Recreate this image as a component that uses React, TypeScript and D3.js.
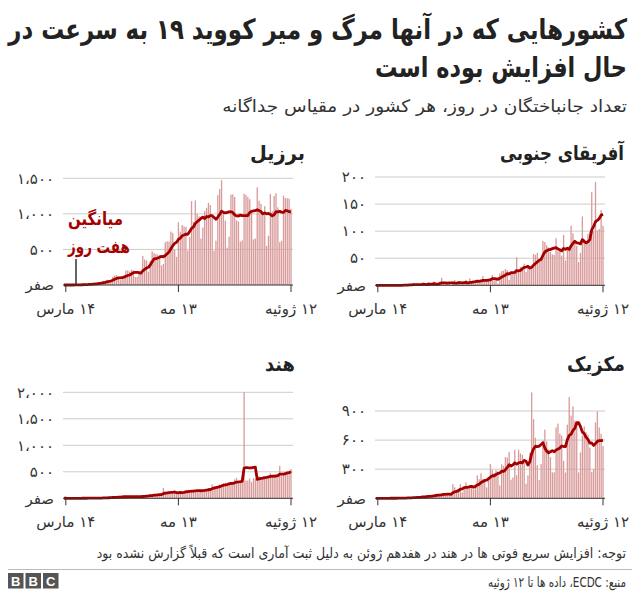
import React, { useLayoutEffect, useRef, useState } from "react";
import * as d3 from "d3";

// ---------- DATA (daily deaths, ECDC, 13 Mar 2020 .. 12 Jul 2020) ----------
const startDate = Date.UTC(2020, 2, 13);

const brazilDeaths = [
  0, 0, 0, 0, 0, 1, 3, 2, 5, 7, 7, 9, 12, 11, 20, 15, 22, 22, 23,
  42, 40, 58, 60, 73, 54, 67, 114, 133, 141, 115, 68, 99, 105, 204, 204, 188, 217, 206, 115, 113, 166, 165, 407, 357, 346, 189, 338, 474, 449,
  435, 428, 421, 275, 296, 600, 615, 610, 751, 730, 496, 396, 881, 749, 844, 824, 816, 485, 674, 1179, 888, 1188, 1001, 965, 653, 807, 1039, 1086, 1156, 1124, 956,
  480, 623, 1262, 1349, 1473, 1005, 904, 525, 679, 1272, 1274, 1239, 909, 892, 612, 627, 1282, 1269, 1238, 1206, 1022, 641, 654, 1374, 1185, 1141, 990, 1109, 552, 692,
  1280, 1038, 1252, 1290, 1091, 602, 620, 1254, 1223, 1220, 1214, 1071,
];

const southAfricaDeaths = [
  0, 0, 0, 0, 0, 0, 0, 0, 0, 0, 0, 0, 0, 0, 0, 1, 1, 1, 2,
  0, 4, 0, 2, 1, 0, 6, 0, 0, 6, 1, 2, 7, 0, 0, 7, 14, 2, 2, 2, 4, 0, 7, 10, 4, 7, 1, 3, 3, 10,
  0, 13, 7, 8, 7, 10, 5, 8, 17, 8, 8, 12, 13, 19, 9, 14, 3, 22, 26, 27, 30, 28, 10, 22, 21, 28, 52, 25, 34, 32, 40,
  25, 37, 30, 36, 58, 56, 60, 46, 49, 82, 80, 74, 70, 62, 57, 56, 87, 63, 65, 55, 93, 46, 70, 72, 110, 96, 82, 73, 43, 60,
  127, 85, 80, 95, 100, 172, 100, 191, 101, 104, 139, 110,
];

const indiaDeaths = [
  1, 0, 0, 0, 1, 0, 0, 1, 1, 0, 3, 2, 1, 2, 5, 4, 3, 5, 4,
  3, 9, 15, 12, 13, 17, 13, 28, 16, 26, 31, 35, 40, 32, 25, 38, 29, 26, 23, 33, 36, 37, 32, 51, 48, 58, 57, 69, 51, 73,
  72, 75, 77, 71, 195, 128, 92, 125, 89, 95, 111, 97, 122, 134, 100, 120, 157, 154, 140, 134, 132, 148, 142, 154, 147, 146, 170, 175, 194, 175, 265,
  230, 204, 217, 260, 273, 284, 294, 287, 297, 261, 266, 357, 386, 311, 325, 343, 2003, 334, 336, 375, 306, 380, 365, 400, 418, 384, 410, 380, 418, 417,
  475, 434, 379, 442, 442, 613, 421, 467, 482, 487, 475, 551,
];

const mexicoDeaths = [
  0, 0, 0, 0, 0, 0, 1, 0, 1, 0, 2, 1, 1, 3, 4, 4, 4, 8, 4,
  8, 10, 13, 15, 10, 19, 22, 20, 28, 22, 25, 26, 38, 43, 41, 30, 46, 52, 40, 47, 40, 33, 145, 113, 80, 98, 145, 62, 122, 163,
  125, 127, 113, 91, 117, 236, 197, 257, 199, 193, 112, 218, 353, 294, 257, 290, 278, 132, 351, 334, 424, 420, 479, 190, 215, 501, 239, 501, 463, 447, 364,
  151, 237, 470, 1092, 816, 625, 341, 188, 354, 596, 708, 587, 504, 424, 267, 269, 730, 770, 667, 647, 387, 266, 759, 1044, 852, 947, 800, 790, 267, 473,
  648, 741, 679, 654, 523, 273, 301, 782, 895, 730, 665, 539,
];

const xTickDates = [Date.UTC(2020, 2, 14), Date.UTC(2020, 4, 13), Date.UTC(2020, 6, 12)];
const xTickLabels = ["۱۴ مارس", "۱۳ مه", "۱۲ ژوئیه"];

const brazilTicks = [0, 500, 1000, 1500];
const brazilTickLabels = ["صفر", "۵۰۰", "۱،۰۰۰", "۱،۵۰۰"];
const southAfricaTicks = [0, 50, 100, 150, 200];
const southAfricaTickLabels = ["صفر", "۵۰", "۱۰۰", "۱۵۰", "۲۰۰"];
const indiaTicks = [0, 500, 1000, 1500, 2000];
const indiaTickLabels = ["صفر", "۵۰۰", "۱،۰۰۰", "۱،۵۰۰", "۲،۰۰۰"];
const mexicoTicks = [0, 300, 600, 900];
const mexicoTickLabels = ["صفر", "۳۰۰", "۶۰۰", "۹۰۰"];

const titleLines = ["کشورهایی که در آنها مرگ و میر کووید ۱۹ به سرعت در", "حال افزایش بوده است"];
const subtitle = "تعداد جانباختگان در روز، هر کشور در مقیاس جداگانه";
const noteText = "توجه: افزایش سریع فوتی ها در هند در هفدهم ژوئن به دلیل ثبت آماری است که قبلاً گزارش نشده بود";
const sourceText = "منبع: ECDC، داده ها تا ۱۲ ژوئیه";
const legendLines = ["میانگین", "هفت روز"];

// ---------- STYLE ----------
const FONT = "'DejaVu Sans', sans-serif";
const BAR = "#d99a9a";
const LINE = "#a30000";
const DAY = 86400000;

function rolling7(vals: number[]): number[] {
  return vals.map((_, i) => d3.mean(vals.slice(Math.max(0, i - 6), i + 1)) as number);
}

type FitProps = {
  x: number;
  y: number;
  width: number;
  side: "right" | "left";
  size: number;
  bold?: boolean;
  fill?: string;
  children: string;
};

// Persian text, fitted horizontally to the width it has in the reference
function FitText(p: FitProps) {
  const ref = useRef<SVGTextElement>(null);
  const [s, setS] = useState(1);
  useLayoutEffect(() => {
    if (ref.current) {
      const w = ref.current.getComputedTextLength();
      if (w > 0) setS(p.width / w);
    }
  }, [p.width, p.children]);
  return (
    <g transform={`translate(${p.x},${p.y}) scale(${s},1)`}>
      <text
        ref={ref}
        x={0}
        y={0}
        direction="rtl"
        textAnchor={p.side === "right" ? "start" : "end"}
        fontFamily={FONT}
        fontWeight={p.bold ? "bold" : "normal"}
        fontSize={p.size}
        fill={p.fill || "#222"}
      >
        {p.children}
      </text>
    </g>
  );
}

type PanelProps = {
  title: string;
  titleX: number;
  titleY: number;
  titleW: number;
  values: number[];
  yMax: number;
  yTop: number;
  base: number;
  left: number;
  ticks: number[];
  tickLabels: string[];
  legend?: boolean;
};

function Panel(p: PanelProps) {
  const x = d3
    .scaleUtc()
    .domain([Date.UTC(2020, 2, 12, 12), Date.UTC(2020, 6, 12)])
    .range([p.left, p.left + 228]);
  const y = d3.scaleLinear().domain([0, p.yMax]).range([p.base, p.yTop]);
  const right = p.left + 230;
  const avg = rolling7(p.values);
  const line = d3
    .line<number>()
    .x((_, i) => x(startDate + i * DAY))
    .y((d) => y(d));
  const bw = 1.3;
  return (
    <g>
      <FitText x={p.titleX} y={p.titleY} width={p.titleW} side="right" size={20} bold>
        {p.title}
      </FitText>
      {p.ticks.map((t, i) =>
        t === 0 ? null : (
          <line key={"g" + i} x1={p.left} x2={right} y1={y(t)} y2={y(t)} stroke="#cccccc" strokeWidth={1} />
        )
      )}
      {p.ticks.map((t, i) => (
        <text key={"yl" + i} x={p.left - 9} y={y(t)} dy="0.35em" textAnchor="end" fontFamily={FONT} fontSize={15} fill="#333">
          {p.tickLabels[i]}
        </text>
      ))}
      {p.values.map((v, i) => {
        const cx = x(startDate + i * DAY);
        return <rect key={"b" + i} x={cx - bw / 2} width={bw} y={y(v)} height={p.base - y(v)} fill={BAR} />;
      })}
      <path d={line(avg) || ""} fill="none" stroke={LINE} strokeWidth={2.8} strokeLinejoin="round" />
      <line x1={p.left} x2={right} y1={p.base} y2={p.base} stroke="#333" strokeWidth={1} />
      {xTickDates.map((t, i) => (
        <g key={"xt" + i}>
          <line x1={x(t)} x2={x(t)} y1={p.base} y2={p.base + 7} stroke="#333" strokeWidth={1} />
          <text x={x(t)} y={p.base + 29} direction="rtl" textAnchor="middle" fontFamily={FONT} fontSize={15} fill="#333">
            {xTickLabels[i]}
          </text>
        </g>
      ))}
      {p.legend ? (
        <g>
          <line x1={76} x2={76} y1={259} y2={p.base} stroke="#333" strokeWidth={1.5} />
          <FitText x={68} y={225} width={55} side="left" size={18} bold fill={LINE}>
            {legendLines[0]}
          </FitText>
          <FitText x={68} y={253} width={62} side="left" size={18} bold fill={LINE}>
            {legendLines[1]}
          </FitText>
        </g>
      ) : null}
    </g>
  );
}

export default function App() {
  return (
    <svg width={640} height={596} style={{ position: "absolute", left: 0, top: 0, background: "#fff" }}>
      <rect width={640} height={596} fill="#fff" />
      <FitText x={627} y={39} width={619} side="right" size={28} bold>
        {titleLines[0]}
      </FitText>
      <FitText x={627} y={77} width={252} side="right" size={28} bold>
        {titleLines[1]}
      </FitText>
      <FitText x={627} y={112} width={405} side="right" size={17} fill="#333">
        {subtitle}
      </FitText>

      <Panel title="برزیل" titleX={305} titleY={160} titleW={55} values={brazilDeaths} yMax={1500} yTop={178.3} base={285} left={63} ticks={brazilTicks} tickLabels={brazilTickLabels} legend />
      <Panel title="آفریقای جنوبی" titleX={624} titleY={160} titleW={124} values={southAfricaDeaths} yMax={200} yTop={177} base={285.3} left={375} ticks={southAfricaTicks} tickLabels={southAfricaTickLabels} />
      <Panel title="هند" titleX={295} titleY={371} titleW={30} values={indiaDeaths} yMax={2000} yTop={392.3} base={498.3} left={63} ticks={indiaTicks} tickLabels={indiaTickLabels} />
      <Panel title="مکزیک" titleX={625} titleY={371} titleW={58} values={mexicoDeaths} yMax={900} yTop={411} base={498.3} left={375} ticks={mexicoTicks} tickLabels={mexicoTickLabels} />

      <FitText x={626} y={558} width={530} side="right" size={14} fill="#333">
        {noteText}
      </FitText>
      <line x1={8} x2={632} y1={569.5} y2={569.5} stroke="#bbbbbb" strokeWidth={1} />
      {["B", "B", "C"].map((c, i) => (
        <g key={"bbc" + i}>
          <rect x={8 + i * 17.5} y={573} width={15.5} height={15.5} fill="#555" />
          <text x={8 + i * 17.5 + 7.75} y={585.5} textAnchor="middle" fontFamily="'Liberation Sans', Arial, sans-serif" fontWeight="bold" fontSize={13} fill="#fff">
            {c}
          </text>
        </g>
      ))}
      <FitText x={626} y={587} width={138} side="right" size={14} fill="#333">
        {sourceText}
      </FitText>
    </svg>
  );
}
